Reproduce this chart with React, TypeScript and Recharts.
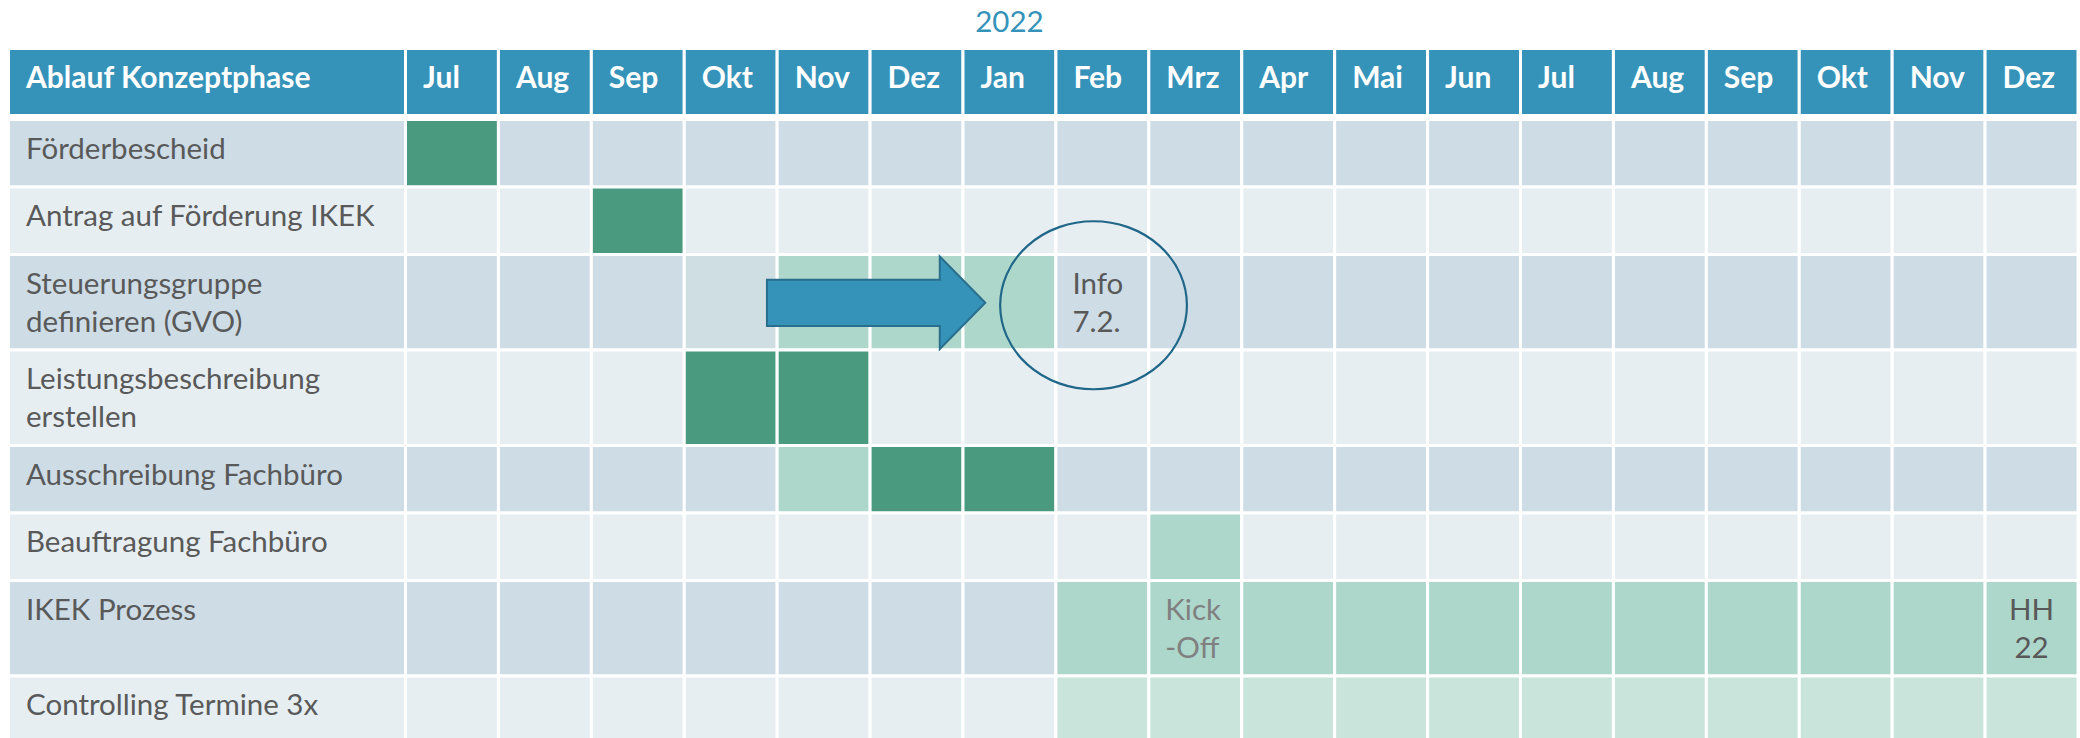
import React from 'react';
import { ComposedChart, XAxis, YAxis, ReferenceArea } from 'recharts';

// ---------------- data ----------------
const yearLabel = '2022';
const headerTitle = 'Ablauf Konzeptphase';
const months = ['Jul', 'Aug', 'Sep', 'Okt', 'Nov', 'Dez', 'Jan', 'Feb', 'Mrz', 'Apr', 'Mai', 'Jun', 'Jul', 'Aug', 'Sep', 'Okt', 'Nov', 'Dez'];
const yearStartMonth = 6; // "Jan" column carries the 2022 label

const taskLabels: string[][] = [
  ['Förderbescheid'],
  ['Antrag auf Förderung IKEK'],
  ['Steuerungsgruppe', 'definieren (GVO)'],
  ['Leistungsbeschreibung', 'erstellen'],
  ['Ausschreibung Fachbüro'],
  ['Beauftragung Fachbüro'],
  ['IKEK Prozess'],
  ['Controlling Termine 3x'],
];
// number of text lines each row is tall
const rowLines = [1, 1, 2, 2, 1, 1, 2, 1];

// 0 = empty, 1 = done (dark green), 2 = planned (light green), 3 = controlling (pale green), 4 = faint tint
const schedule: number[][] = [
  [1, 0, 0, 0, 0, 0, 0, 0, 0, 0, 0, 0, 0, 0, 0, 0, 0, 0],
  [0, 0, 1, 0, 0, 0, 0, 0, 0, 0, 0, 0, 0, 0, 0, 0, 0, 0],
  [0, 0, 0, 4, 2, 2, 2, 0, 0, 0, 0, 0, 0, 0, 0, 0, 0, 0],
  [0, 0, 0, 1, 1, 0, 0, 0, 0, 0, 0, 0, 0, 0, 0, 0, 0, 0],
  [0, 0, 0, 0, 2, 1, 1, 0, 0, 0, 0, 0, 0, 0, 0, 0, 0, 0],
  [0, 0, 0, 0, 0, 0, 0, 0, 2, 0, 0, 0, 0, 0, 0, 0, 0, 0],
  [0, 0, 0, 0, 0, 0, 0, 2, 2, 2, 2, 2, 2, 2, 2, 2, 2, 2],
  [0, 0, 0, 0, 0, 0, 0, 3, 3, 3, 3, 3, 3, 3, 3, 3, 3, 3],
];

const cellNotes = [
  { row: 2, month: 7, lines: ['Info', '7.2.'], muted: false, centered: false },
  { row: 6, month: 8, lines: ['Kick', '-Off'], muted: true, centered: false },
  { row: 6, month: 17, lines: ['HH', '22'], muted: false, centered: true },
];

const arrowMarker = { row: 2, from: 3.89, headAt: 5.75, to: 6.24 };
const circleMarker = { row: 2, from: 6.4, to: 8.41 };

// ---------------- layout & style ----------------
const W = 2080;
const H = 738;
const M_LEFT = 8.5;
const M_RIGHT = 2;
const M_TOP = 50;
const LABEL_RIGHT_PX = 405.5;
const MONTH_PX = (W - M_RIGHT - LABEL_RIGHT_PX) / months.length;
const LABEL_SPAN = (LABEL_RIGHT_PX - M_LEFT) / MONTH_PX;
const PLOT_H = H - M_TOP;

const HEADER_TOP = -1.5;
const HEADER_BOTTOM = 65.5;
const FIRST_ROW = 69.5;
const ROW_SINGLE = 67.5;
const ROW_DOUBLE = 95.5;
const LINE_GAP = 38;

const FONT = "Lato, 'Open Sans', sans-serif";
const FS = 29.5;
const FS_BOLD = 30;
const C = {
  header: '#3593BA',
  rowDark: '#CEDCE6',
  rowLight: '#E6EEF2',
  done: '#4A9A80',
  planned: '#ADD7CB',
  control: '#C8E4DB',
  faint: '#CFDEE2',
  text: '#595959',
  muted: '#808080',
  arrowFill: '#3593BA',
  arrowStroke: '#2A6E8E',
  circle: '#1F6688',
};

const rowBounds: { top: number; bottom: number }[] = [];
{
  let start = FIRST_ROW;
  rowLines.forEach((n) => {
    const h = n > 1 ? ROW_DOUBLE : ROW_SINGLE;
    rowBounds.push({ top: start, bottom: start + h });
    start += h;
  });
}

const statusFill = (s: number, rowIdx: number) => {
  if (s === 1) return C.done;
  if (s === 2) return C.planned;
  if (s === 3) return C.control;
  if (s === 4) return C.faint;
  return rowIdx % 2 === 0 ? C.rowDark : C.rowLight;
};

const cellShape = (fill: string, lines?: string[], opts?: { bold?: boolean; color?: string }) => (p: any) => {
  const { x, y, width, height } = p;
  const tx = x + 1.5 + 16;
  const ty = y + 1.5 + 37.5;
  return (
    <g>
      <rect x={x} y={y} width={width} height={height} fill={fill} stroke="#ffffff" strokeWidth={3} />
      {lines && (
        <text x={tx} y={ty} fontFamily={FONT} fontSize={opts?.bold ? FS_BOLD : FS} fontWeight={opts?.bold ? 700 : 400} fill={opts?.color || C.text}>
          {lines.map((l, i) => (
            <tspan key={i} x={tx} dy={i === 0 ? 0 : LINE_GAP}>
              {l}
            </tspan>
          ))}
        </text>
      )}
    </g>
  );
};

export default function App() {
  const areas: React.ReactNode[] = [];

  // year title
  areas.push(
    <ReferenceArea
      key="year"
      x1={yearStartMonth}
      x2={yearStartMonth + 1}
      y1={-M_TOP}
      y2={0}
      ifOverflow="visible"
      shape={(p: any) => (
        <text x={p.x + p.width / 2} y={p.y + 32} textAnchor="middle" fontFamily={FONT} fontSize={FS} fill={C.header}>
          {yearLabel}
        </text>
      )}
    />
  );

  // header row
  areas.push(
    <ReferenceArea key="h-label" x1={-LABEL_SPAN} x2={0} y1={HEADER_TOP} y2={HEADER_BOTTOM} ifOverflow="visible"
      shape={cellShape(C.header, [headerTitle], { bold: true, color: '#ffffff' })} />
  );
  months.forEach((m, i) => {
    areas.push(
      <ReferenceArea key={`h-${i}`} x1={i} x2={i + 1} y1={HEADER_TOP} y2={HEADER_BOTTOM} ifOverflow="visible"
        shape={cellShape(C.header, [m], { bold: true, color: '#ffffff' })} />
    );
  });

  // body rows
  taskLabels.forEach((lab, r) => {
    const { top, bottom } = rowBounds[r];
    areas.push(
      <ReferenceArea key={`l-${r}`} x1={-LABEL_SPAN} x2={0} y1={top} y2={bottom} ifOverflow="visible"
        shape={cellShape(statusFill(0, r), lab)} />
    );
    schedule[r].forEach((s, i) => {
      areas.push(
        <ReferenceArea key={`c-${r}-${i}`} x1={i} x2={i + 1} y1={top} y2={bottom} ifOverflow="visible"
          shape={cellShape(statusFill(s, r))} />
      );
    });
  });

  // arrow
  {
    const { top, bottom } = rowBounds[arrowMarker.row];
    const headFrac = (arrowMarker.headAt - arrowMarker.from) / (arrowMarker.to - arrowMarker.from);
    areas.push(
      <ReferenceArea key="arrow" x1={arrowMarker.from} x2={arrowMarker.to} y1={top + 2} y2={bottom - 1} ifOverflow="visible"
        shape={(p: any) => {
          const { x, y, width, height } = p;
          const cy = y + height / 2;
          const hx = x + width * headFrac;
          const bh = height * 0.25;
          const pts = [
            [x, cy - bh], [hx, cy - bh], [hx, y], [x + width, cy], [hx, y + height], [hx, cy + bh], [x, cy + bh],
          ].map((q) => q.join(',')).join(' ');
          return <polygon points={pts} fill={C.arrowFill} stroke={C.arrowStroke} strokeWidth={2} strokeLinejoin="miter" />;
        }} />
    );
  }

  // circle
  {
    const { top, bottom } = rowBounds[circleMarker.row];
    const mid = (top + bottom) / 2 + 3;
    areas.push(
      <ReferenceArea key="circle" x1={circleMarker.from} x2={circleMarker.to} y1={mid - 84} y2={mid + 84} ifOverflow="visible"
        shape={(p: any) => (
          <ellipse cx={p.x + p.width / 2} cy={p.y + p.height / 2} rx={p.width / 2} ry={p.height / 2} fill="none" stroke={C.circle} strokeWidth={2.2} />
        )} />
    );
  }

  // notes
  cellNotes.forEach((n, k) => {
    const { top, bottom } = rowBounds[n.row];
    areas.push(
      <ReferenceArea key={`n-${k}`} x1={n.month} x2={n.month + 1} y1={top} y2={bottom} ifOverflow="visible"
        shape={(p: any) => {
          const tx = n.centered ? p.x + p.width / 2 : p.x + 1.5 + 15;
          const ty = p.y + 1.5 + 37.5;
          return (
            <text x={tx} y={ty} textAnchor={n.centered ? 'middle' : 'start'} fontFamily={FONT} fontSize={FS} fill={n.muted ? C.muted : C.text}>
              {n.lines.map((l, i) => (
                <tspan key={i} x={tx} dy={i === 0 ? 0 : LINE_GAP}>{l}</tspan>
              ))}
            </text>
          );
        }} />
    );
  });

  const data = months.map((m, i) => ({ month: m, idx: i }));

  return (
    <div style={{ position: 'absolute', left: 0, top: 0, width: W, height: H, background: '#ffffff' }}>
      <ComposedChart width={W} height={H} data={data} margin={{ top: M_TOP, right: M_RIGHT, bottom: 0, left: M_LEFT }}>
        <XAxis type="number" dataKey="idx" domain={[-LABEL_SPAN, months.length]} hide allowDataOverflow />
        <YAxis type="number" domain={[0, PLOT_H]} reversed hide allowDataOverflow />
        {areas}
      </ComposedChart>
    </div>
  );
}
